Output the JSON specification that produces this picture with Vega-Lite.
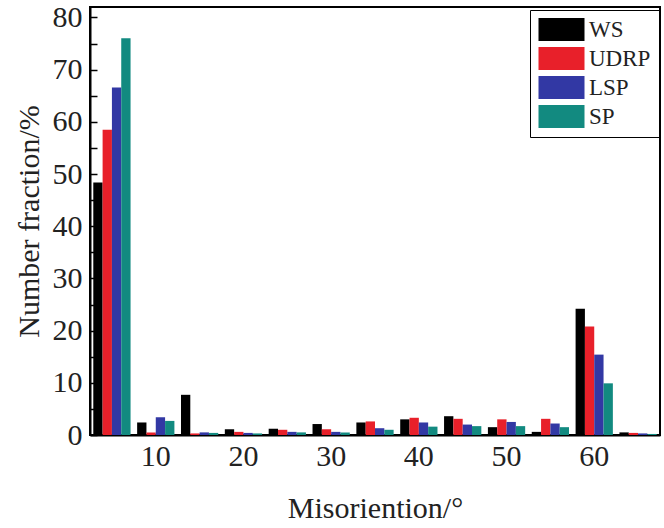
{
  "$schema": "https://vega.github.io/schema/vega-lite/v6.json",
  "width": 570,
  "height": 428,
  "autosize": {"type": "none"},
  "padding": {"left": 90, "top": 7, "right": 4, "bottom": 93},
  "background": "white",
  "config": {
    "view": {"stroke": "black", "strokeWidth": 2},
    "font": "Liberation Serif",
    "axis": {
      "domainColor": "black",
      "domainWidth": 2,
      "tickColor": "black",
      "tickWidth": 1.5,
      "labelColor": "#222222",
      "titleColor": "#222222",
      "labelFont": "Liberation Serif",
      "titleFont": "Liberation Serif",
      "labelFontSize": 30,
      "titleFontSize": 30,
      "titleFontWeight": "normal",
      "grid": false
    },
    "legend": {
      "labelFont": "Liberation Serif",
      "labelFontSize": 23,
      "labelColor": "#222222"
    }
  },
  "data": {
    "values": [
      {"angle": 5, "series": "WS", "fraction": 48.4},
      {"angle": 5, "series": "UDRP", "fraction": 58.5},
      {"angle": 5, "series": "LSP", "fraction": 66.6},
      {"angle": 5, "series": "SP", "fraction": 76.0},
      {"angle": 10, "series": "WS", "fraction": 2.4},
      {"angle": 10, "series": "UDRP", "fraction": 0.5},
      {"angle": 10, "series": "LSP", "fraction": 3.4},
      {"angle": 10, "series": "SP", "fraction": 2.7},
      {"angle": 15, "series": "WS", "fraction": 7.7},
      {"angle": 15, "series": "UDRP", "fraction": 0.3},
      {"angle": 15, "series": "LSP", "fraction": 0.5},
      {"angle": 15, "series": "SP", "fraction": 0.4},
      {"angle": 20, "series": "WS", "fraction": 1.1},
      {"angle": 20, "series": "UDRP", "fraction": 0.6},
      {"angle": 20, "series": "LSP", "fraction": 0.4},
      {"angle": 20, "series": "SP", "fraction": 0.3},
      {"angle": 25, "series": "WS", "fraction": 1.2},
      {"angle": 25, "series": "UDRP", "fraction": 1.0},
      {"angle": 25, "series": "LSP", "fraction": 0.6},
      {"angle": 25, "series": "SP", "fraction": 0.5},
      {"angle": 30, "series": "WS", "fraction": 2.1},
      {"angle": 30, "series": "UDRP", "fraction": 1.1},
      {"angle": 30, "series": "LSP", "fraction": 0.6},
      {"angle": 30, "series": "SP", "fraction": 0.5},
      {"angle": 35, "series": "WS", "fraction": 2.4},
      {"angle": 35, "series": "UDRP", "fraction": 2.6},
      {"angle": 35, "series": "LSP", "fraction": 1.3},
      {"angle": 35, "series": "SP", "fraction": 1.0},
      {"angle": 40, "series": "WS", "fraction": 3.0},
      {"angle": 40, "series": "UDRP", "fraction": 3.3},
      {"angle": 40, "series": "LSP", "fraction": 2.4},
      {"angle": 40, "series": "SP", "fraction": 1.6},
      {"angle": 45, "series": "WS", "fraction": 3.6},
      {"angle": 45, "series": "UDRP", "fraction": 3.1},
      {"angle": 45, "series": "LSP", "fraction": 2.0},
      {"angle": 45, "series": "SP", "fraction": 1.7},
      {"angle": 50, "series": "WS", "fraction": 1.5},
      {"angle": 50, "series": "UDRP", "fraction": 3.0},
      {"angle": 50, "series": "LSP", "fraction": 2.5},
      {"angle": 50, "series": "SP", "fraction": 1.7},
      {"angle": 55, "series": "WS", "fraction": 0.6},
      {"angle": 55, "series": "UDRP", "fraction": 3.1},
      {"angle": 55, "series": "LSP", "fraction": 2.2},
      {"angle": 55, "series": "SP", "fraction": 1.5},
      {"angle": 60, "series": "WS", "fraction": 24.2},
      {"angle": 60, "series": "UDRP", "fraction": 20.8},
      {"angle": 60, "series": "LSP", "fraction": 15.4},
      {"angle": 60, "series": "SP", "fraction": 9.9},
      {"angle": 65, "series": "WS", "fraction": 0.5},
      {"angle": 65, "series": "UDRP", "fraction": 0.4},
      {"angle": 65, "series": "LSP", "fraction": 0.3},
      {"angle": 65, "series": "SP", "fraction": 0.2}
    ]
  },
  "mark": {"type": "bar"},
  "encoding": {
    "x": {
      "field": "angle",
      "type": "ordinal",
      "sort": [5, 10, 15, 20, 25, 30, 35, 40, 45, 50, 55, 60, 65],
      "scale": {"paddingInner": 0.15, "paddingOuter": 0.075},
      "axis": {
        "title": "Misoriention/°",
        "labelExpr": "datum.value % 10 == 0 ? datum.label : ''",
        "ticks": false,
        "labelAngle": 0,
        "labelPadding": 6,
        "titlePadding": 22
      }
    },
    "xOffset": {"field": "series", "sort": ["WS", "UDRP", "LSP", "SP"]},
    "y": {
      "field": "fraction",
      "type": "quantitative",
      "scale": {"domain": [0, 82], "nice": false},
      "axis": {
        "title": "Number fraction/%",
        "values": [0, 5, 10, 15, 20, 25, 30, 35, 40, 45, 50, 55, 60, 65, 70, 75, 80],
        "labelExpr": "datum.value % 10 == 0 ? datum.label : ''",
        "tickSize": -7,
        "labelPadding": 15,
        "titlePadding": 8
      }
    },
    "color": {
      "field": "series",
      "type": "nominal",
      "sort": ["WS", "UDRP", "LSP", "SP"],
      "scale": {
        "domain": ["WS", "UDRP", "LSP", "SP"],
        "range": ["#000000", "#e8202a", "#3238a4", "#128a80"]
      },
      "legend": {
        "title": null,
        "orient": "none",
        "legendX": 440,
        "legendY": 3,
        "symbolType": "M-2,-1H2V1H-2Z",
        "symbolSize": 529,
        "symbolStrokeWidth": 0,
        "symbolOffset": 12,
        "labelFont": "Liberation Serif",
        "labelFontSize": 23,
        "labelColor": "#222222",
        "labelOffset": 16,
        "rowPadding": 5,
        "padding": 8,
        "strokeColor": "black"
      }
    }
  }
}
